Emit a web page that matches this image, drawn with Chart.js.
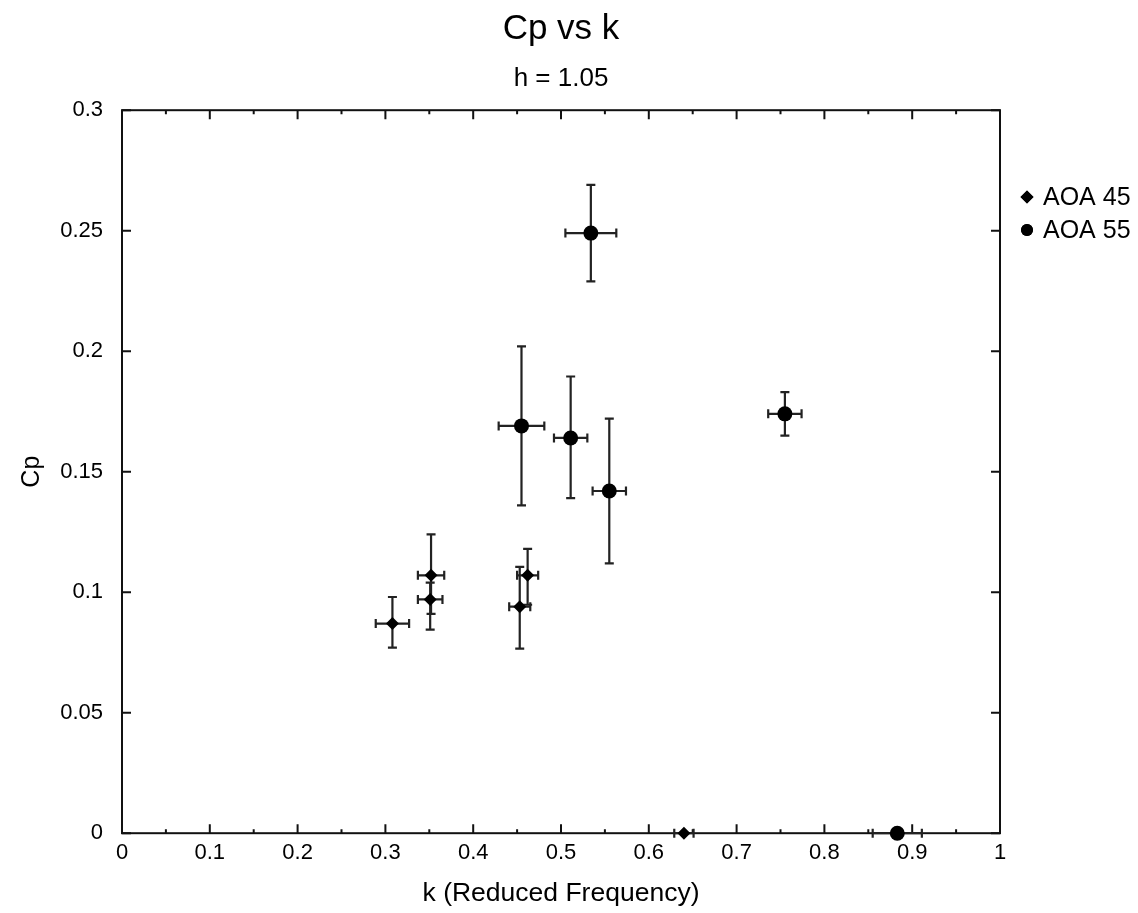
<!DOCTYPE html>
<html lang="en">
  <head>
    <title>Cp vs k</title>
    <meta charset="UTF-8" />
    <style>
      body { margin: 0; background: #fff; }
      .wrap { width: 1138px; height: 913px; }
    </style>
  </head>
  <body>
    <div class="wrap">
      <canvas id="cpChart"></canvas>
    </div>
    <script src="https://cdn.jsdelivr.net/npm/chart.js@4"></script>
    <script>
      // AOA 45 series
      var k45 = [0.308, 0.352, 0.351, 0.453, 0.462, 0.640];
      var cp45 = [0.087, 0.107, 0.097, 0.094, 0.107, 0.0];
      var kErr45 = [0.019, 0.015, 0.014, 0.012, 0.012, 0.011];
      var cpLow45 = [0.077, 0.091, 0.0845, 0.0766, 0.0948, 0.0];
      var cpHigh45 = [0.098, 0.124, 0.104, 0.1105, 0.118, 0.0];

      // AOA 55 series
      var k55 = [0.455, 0.511, 0.555, 0.534, 0.755, 0.883];
      var cp55 = [0.169, 0.164, 0.142, 0.249, 0.174, 0.0];
      var kErr55 = [0.026, 0.019, 0.019, 0.029, 0.019, 0.028];
      var cpLow55 = [0.136, 0.139, 0.112, 0.229, 0.165, 0.0];
      var cpHigh55 = [0.202, 0.1895, 0.172, 0.269, 0.183, 0.0];

      var seriesNames = ["AOA 45", "AOA 55"];
      var xTicks = [0, 0.1, 0.2, 0.3, 0.4, 0.5, 0.6, 0.7, 0.8, 0.9, 1];
      var yTicks = [0, 0.05, 0.1, 0.15, 0.2, 0.25, 0.3];

      var FONT = "'Liberation Sans', Arial, Helvetica, sans-serif";

      function toPoints(xs, ys) {
        return xs.map(function (x, i) { return { x: x, y: ys[i] }; });
      }

      // error bars, drawn under the markers
      var errorBars = {
        id: "errorBars",
        beforeDatasetsDraw: function (chart) {
          var ctx = chart.ctx;
          var xs = chart.scales.x;
          var ys = chart.scales.y;
          var cap = 4.5;
          ctx.save();
          ctx.strokeStyle = "#222";
          ctx.lineWidth = 2.2;
          chart.data.datasets.forEach(function (ds) {
            ds.data.forEach(function (p, i) {
              var px = xs.getPixelForValue(p.x);
              var py = ys.getPixelForValue(p.y);
              var xl = xs.getPixelForValue(p.x - ds.errX[i]);
              var xr = xs.getPixelForValue(p.x + ds.errX[i]);
              var yl = ys.getPixelForValue(ds.errLo[i]);
              var yh = ys.getPixelForValue(ds.errHi[i]);
              ctx.beginPath();
              ctx.moveTo(xl, py); ctx.lineTo(xr, py);
              ctx.moveTo(xl, py - cap); ctx.lineTo(xl, py + cap);
              ctx.moveTo(xr, py - cap); ctx.lineTo(xr, py + cap);
              if (yh - yl !== 0) {
                ctx.moveTo(px, yl); ctx.lineTo(px, yh);
                ctx.moveTo(px - cap, yl); ctx.lineTo(px + cap, yl);
                ctx.moveTo(px - cap, yh); ctx.lineTo(px + cap, yh);
              }
              ctx.stroke();
            });
          });
          ctx.restore();
        },
      };

      // box frame with inward ticks on all four sides
      var frame = {
        id: "frame",
        beforeDatasetsDraw: function (chart) {
          var ctx = chart.ctx;
          var a = chart.chartArea;
          var xs = chart.scales.x;
          var ys = chart.scales.y;
          var major = 9, minor = 4;
          ctx.save();
          ctx.strokeStyle = "#111";
          ctx.lineWidth = 2;
          ctx.strokeRect(a.left, a.top, a.right - a.left, a.bottom - a.top);
          ctx.beginPath();
          xTicks.forEach(function (v, i) {
            var x = xs.getPixelForValue(v);
            ctx.moveTo(x, a.bottom); ctx.lineTo(x, a.bottom - major);
            ctx.moveTo(x, a.top); ctx.lineTo(x, a.top + major);
            if (i < xTicks.length - 1) {
              var xm = xs.getPixelForValue(v + 0.05);
              ctx.moveTo(xm, a.bottom); ctx.lineTo(xm, a.bottom - minor);
              ctx.moveTo(xm, a.top); ctx.lineTo(xm, a.top + minor);
            }
          });
          yTicks.forEach(function (v) {
            var y = ys.getPixelForValue(v);
            ctx.moveTo(a.left, y); ctx.lineTo(a.left + major, y);
            ctx.moveTo(a.right, y); ctx.lineTo(a.right - major, y);
          });
          ctx.stroke();
          ctx.restore();
        },
      };

      // legend on the right, next to the top of the plot
      var sideLegend = {
        id: "sideLegend",
        afterDraw: function (chart) {
          var ctx = chart.ctx;
          var x0 = chart.chartArea.right + 27;
          var y0 = 197;
          ctx.save();
          ctx.font = "25px " + FONT;
          ctx.textBaseline = "middle";
          ctx.fillStyle = "#000";
          chart.data.datasets.forEach(function (ds, i) {
            var y = y0 + i * 33;
            Chart.helpers.drawPoint(ctx, {
              pointStyle: ds.pointStyle,
              radius: ds.pointStyle === "circle" ? 6 : 6.5,
              rotation: 0,
              borderWidth: 0,
            }, x0, y);
            ctx.fillStyle = "#000";
            ctx.fill();
            ctx.fillText(ds.label, x0 + 16, y + 1);
          });
          ctx.restore();
        },
      };

      var ctx = document.getElementById("cpChart");
      var cpChart = new Chart(ctx, {
        type: "scatter",
        data: {
          datasets: [
            {
              label: seriesNames[0],
              data: toPoints(k45, cp45),
              errX: kErr45, errLo: cpLow45, errHi: cpHigh45,
              pointStyle: "rectRot",
              pointRadius: 6.5,
              backgroundColor: "#000",
              borderColor: "#000",
              borderWidth: 0,
              clip: false,
            },
            {
              label: seriesNames[1],
              data: toPoints(k55, cp55),
              errX: kErr55, errLo: cpLow55, errHi: cpHigh55,
              pointStyle: "circle",
              pointRadius: 7.5,
              backgroundColor: "#000",
              borderColor: "#000",
              borderWidth: 0,
              clip: false,
            },
          ],
        },
        plugins: [frame, errorBars, sideLegend],
        options: {
          responsive: true,
          maintainAspectRatio: false,
          animation: false,
          layout: { padding: { left: 0, right: 138, top: 0, bottom: 0 } },
          plugins: {
            legend: { display: false },
            tooltip: { enabled: false },
            title: {
              display: true,
              fullSize: false,
              text: "Cp vs k",
              color: "#000",
              font: { family: FONT, size: 35, weight: "normal" },
              padding: { top: 8, bottom: 2 },
            },
            subtitle: {
              display: true,
              fullSize: false,
              text: "h = 1.05",
              color: "#000",
              font: { family: FONT, size: 26, weight: "normal" },
              padding: { top: 11, bottom: 16 },
            },
          },
          scales: {
            x: {
              type: "linear",
              min: 0,
              max: 1,
              grid: { display: false, drawTicks: false },
              border: { display: false },
              afterBuildTicks: function (scale) {
                scale.ticks = xTicks.map(function (v) { return { value: v }; });
              },
              ticks: {
                color: "#000",
                padding: 7,
                maxRotation: 0,
                font: { family: FONT, size: 22 },
                callback: function (v) { return String(+v.toFixed(2)); },
              },
              title: {
                display: true,
                text: "k (Reduced Frequency)",
                color: "#000",
                font: { family: FONT, size: 26.5 },
                padding: { top: 4.6, bottom: 3 },
              },
            },
            y: {
              type: "linear",
              min: 0,
              max: 0.3,
              grid: { display: false, drawTicks: false },
              border: { display: false },
              afterBuildTicks: function (scale) {
                scale.ticks = yTicks.map(function (v) { return { value: v }; });
              },
              afterFit: function (scale) {
                scale.width = 122;
              },
              ticks: {
                color: "#000",
                padding: 19,
                font: { family: FONT, size: 22 },
                callback: function (v) { return String(+v.toFixed(3)); },
              },
              title: {
                display: true,
                text: "Cp",
                color: "#000",
                font: { family: FONT, size: 25 },
                padding: { top: 17, bottom: 0 },
              },
            },
          },
        },
      });
    </script>
  </body>
</html>
